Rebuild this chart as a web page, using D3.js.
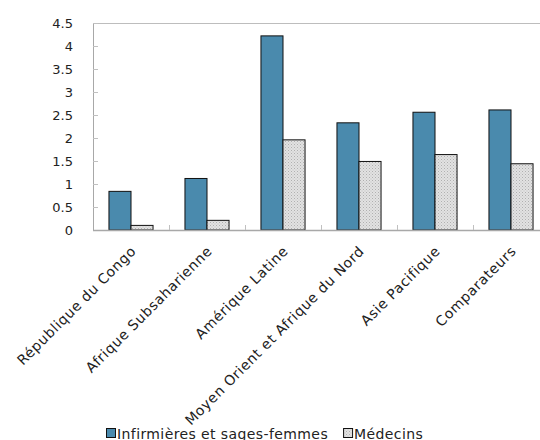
<!DOCTYPE html>
<html><head><meta charset="utf-8">
<script src="https://cdn.jsdelivr.net/npm/d3@7"></script>
<style>body{margin:0;background:#fff}svg{display:block}text{font-family:"DejaVu Sans",sans-serif;fill:#222}</style>
</head><body>
<script>
const categories = ["République du Congo","Afrique Subsaharienne","Amérique Latine","Moyen Orient et Afrique du Nord","Asie Pacifique","Comparateurs"];
const seriesNames = ["Infirmières et sages-femmes","Médecins"];
const infirmieres = [0.84,1.12,4.22,2.33,2.56,2.61];
const medecins = [0.10,0.21,1.96,1.49,1.64,1.44];
const yTicks = [0,0.5,1,1.5,2,2.5,3,3.5,4,4.5];

const W=540,H=440;
const m={left:93,top:23,right:549,bottom:230};
const svg=d3.select("body").append("svg").attr("width",W).attr("height",H);
const defs=svg.append("defs");
const pat=defs.append("pattern").attr("id","hatch").attr("patternUnits","userSpaceOnUse").attr("width",3).attr("height",3);
pat.append("rect").attr("width",3).attr("height",3).attr("fill","#e2e2e2");
pat.append("rect").attr("x",0).attr("y",0).attr("width",1).attr("height",1).attr("fill","#b0b0b0");
pat.append("rect").attr("x",1.5).attr("y",1.5).attr("width",1).attr("height",1).attr("fill","#c0c0c0");

const x=d3.scaleBand().domain(categories).range([m.left,m.right]).paddingInner(0.42).paddingOuter(0.21);
const xs=d3.scaleBand().domain(seriesNames).range([0,x.bandwidth()]);
const y=d3.scaleLinear().domain([0,4.5]).range([m.bottom,m.top]);
const colors=["#4a8aad","url(#hatch)"];
const data=[infirmieres,medecins];

svg.append("line").attr("x1",m.left).attr("x2",m.right).attr("y1",m.top+0.5).attr("y2",m.top+0.5).attr("stroke","#bdbdbd").attr("stroke-width",1);

const ya=svg.append("g").attr("transform",`translate(${m.left},0)`)
  .call(d3.axisLeft(y).tickValues(yTicks).tickSize(-5).tickPadding(20).tickFormat(d=>String(d)));
ya.select(".domain").attr("stroke","#a8a8a8");
ya.selectAll(".tick line").attr("stroke","#c0c0c0");
ya.selectAll(".tick text").attr("font-size",13).style("font-family","DejaVu Sans, sans-serif").attr("fill","#222");

categories.forEach((c,i)=>{
  seriesNames.forEach((s,j)=>{
    svg.append("rect")
      .attr("x",x(c)+xs(s)).attr("y",y(data[j][i]))
      .attr("width",xs.bandwidth()).attr("height",y(0)-y(data[j][i]))
      .attr("fill",colors[j]).attr("stroke","#111").attr("stroke-width",1);
  });
});

const step=x.step();
const xa=svg.append("g").attr("transform",`translate(0,${m.bottom})`);
xa.append("line").attr("x1",m.left).attr("x2",m.right).attr("y1",0.5).attr("y2",0.5).attr("stroke","#a8a8a8").attr("stroke-width",1.5);
categories.forEach((c,i)=>{
  const bx=x(c)-(step-x.bandwidth())/2;
  if(i>0) xa.append("line").attr("x1",bx+0.5).attr("x2",bx+0.5).attr("y1",0).attr("y2",-5).attr("stroke","#c0c0c0");
  const cx=x(c)+x.bandwidth()/2;
  xa.append("text").attr("transform",`translate(${cx+6},22) rotate(-45)`).attr("text-anchor","end")
    .attr("font-size",14).attr("letter-spacing","0.6px").text(c);
});

const lg=svg.append("g").attr("transform","translate(106,428)");
let lx=0;
seriesNames.forEach((s,j)=>{
  lg.append("rect").attr("x",lx+0.5).attr("y",0.5).attr("width",9).attr("height",9).attr("fill",colors[j]).attr("stroke","#111");
  const t=lg.append("text").attr("x",lx+11).attr("y",10.5).attr("font-size",14).attr("letter-spacing","0.4px").text(s);
  lx+=t.node().getComputedTextLength()+26;
});
</script>
</body></html>
